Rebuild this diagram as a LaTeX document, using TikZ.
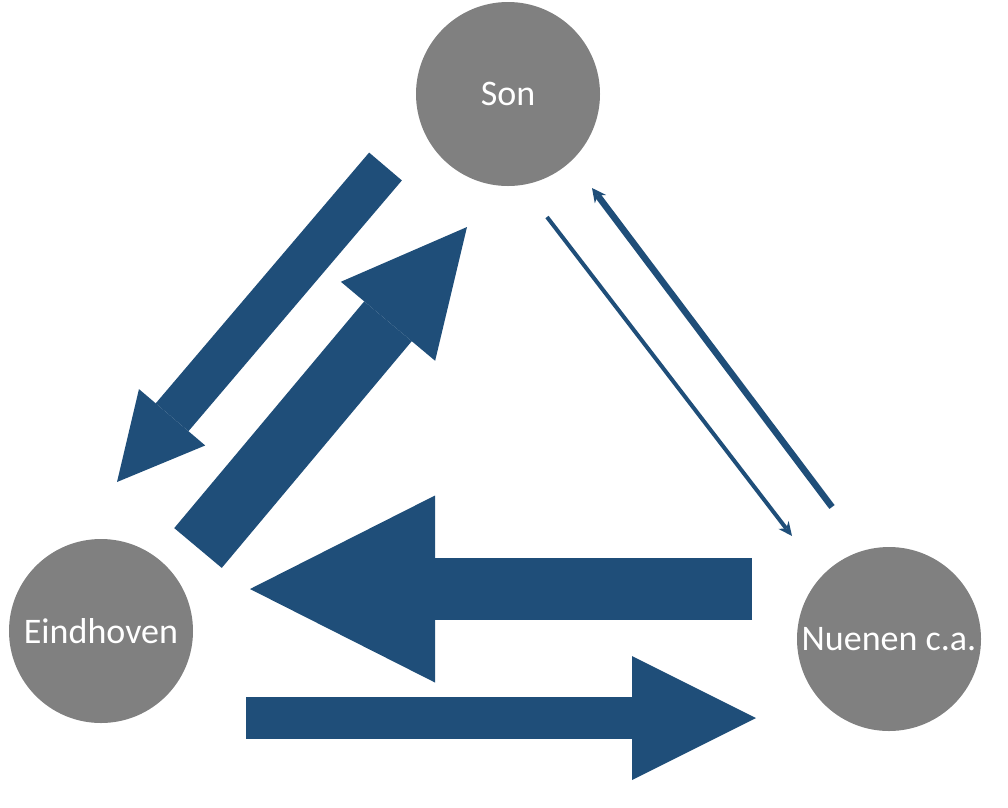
\documentclass[tikz,border=0pt]{standalone}
\usepackage{fontspec}
\setmainfont{Carlito}
\usepackage{xcolor}
\usetikzlibrary{arrows.meta}
\definecolor{flowblue}{RGB}{31,78,121}
\definecolor{towngray}{RGB}{128,128,128}

\begin{document}
\begin{tikzpicture}[x=1pt, y=-1pt,
        town/.style={circle, fill=towngray, text=white, minimum size=184pt, inner sep=0pt,
                     font=\fontsize{36}{40}\selectfont},
        flow/.style={draw=flowblue, line cap=butt}]
        \useasboundingbox (0,0) rectangle (1008,807);

        \node[town] (son) at (508, 94) {Son};
        \node[town] (ehv) at (101, 631) {Eindhoven};
        \node[town] (nue) at (889, 639) {Nuenen c.a.};

        \coordinate(se1) at (385.5, 166.5);
        \coordinate(se2) at (117, 482);
        \coordinate(es1) at (198, 548);
        \coordinate(es2) at (467, 227);

        \coordinate(ne1) at (752, 589);
        \coordinate(ne2) at (250, 589);
        \coordinate(en1) at (246, 718);
        \coordinate(en2) at (756, 718);

        \coordinate(sn1) at (547, 217);
        \coordinate(sn2) at (792, 536);
        \coordinate(ns1) at (832, 507);
        \coordinate(ns2) at (592, 188);

        \draw[flow, line width=43pt, -{Triangle[width=87pt, length=85pt, line width=0pt]}] (se1) -- (se2);
        \draw[flow, line width=62pt, -{Triangle[width=123pt, length=123pt, line width=0pt]}] (es1) -- (es2);

        \draw[flow, line width=62pt, -{Triangle[width=187pt, length=185pt, line width=0pt]}] (ne1) -- (ne2);
        \draw[flow, line width=42pt, -{Triangle[width=124pt, length=124pt, line width=0pt]}] (en1) -- (en2);

        \draw[flow, line width=4pt, -{Stealth[width=13pt, length=14pt, line width=0pt]}] (sn1) -- (sn2);
        \draw[flow, line width=6.5pt, -{Stealth[width=14pt, length=14pt, line width=0pt]}] (ns1) -- (ns2);

    \end{tikzpicture}
\end{document}
